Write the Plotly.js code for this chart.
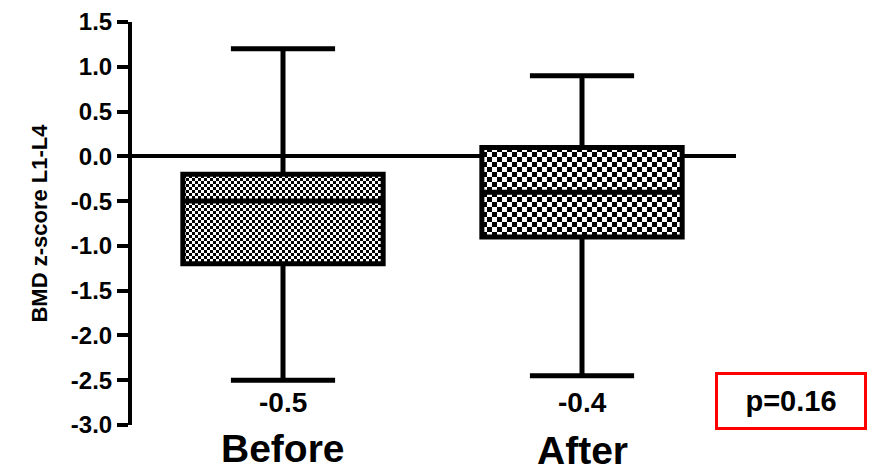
<!DOCTYPE html>
<html>
<head>
<meta charset="utf-8">
<script src="https://cdn.plot.ly/plotly-3.0.1.min.js"></script>
<style>
  html, body { margin: 0; padding: 0; background: #fff; }
  #chart { width: 871px; height: 474px; }
</style>
</head>
<body>
<div id="chart"></div>
<script>
// BMD z-score (L1-L4) before and after treatment: box-and-whisker summary
const groups = ['Before', 'After'];
const lowerWhisker = [-2.5, -2.45];
const q1 = [-1.2, -0.9];
const median = [-0.5, -0.4];
const q3 = [-0.2, 0.1];
const upperWhisker = [1.2, 0.9];
const yTicks = [1.5, 1.0, 0.5, 0.0, -0.5, -1.0, -1.5, -2.0, -2.5, -3.0];
const pValue = 0.16;

const FONT = 'Arial, "Liberation Sans", sans-serif';
// checkerboard cell (px) used to fill each box
const checkerCell = [3, 5];
// small vertical offsets (px) for the group captions
const captionShift = [1, -1];

// patterned bar spanning q1..q3 gives the box its fill
const boxFill = {
  type: 'bar',
  x: groups,
  base: q1,
  y: q3.map((v, i) => v - q1[i]),
  width: 0.67,
  marker: {
    color: 'white',
    line: { width: 0 },
    pattern: {
      shape: '.',
      size: checkerCell.map(c => 2 * c),
      solidity: 0.5,
      fgcolor: 'black',
      bgcolor: 'white',
      fillmode: 'replace'
    }
  },
  hoverinfo: 'skip',
  showlegend: false
};

// outline, median and whiskers
const boxes = {
  type: 'box',
  x: groups,
  q1: q1,
  median: median,
  q3: q3,
  lowerfence: lowerWhisker,
  upperfence: upperWhisker,
  width: 0.67,
  whiskerwidth: 0.52,
  fillcolor: 'rgba(0,0,0,0)',
  line: { color: 'black', width: 5 },
  boxpoints: false,
  hoverinfo: 'skip',
  showlegend: false
};

const annotations = [];
groups.forEach((g, i) => {
  annotations.push({
    x: g, xref: 'x', y: -0.062, yref: 'paper',
    text: g, showarrow: false, yanchor: 'middle', yshift: captionShift[i],
    font: { family: FONT, size: 39, color: 'black', weight: 'bold' }
  });
  annotations.push({
    x: g, xref: 'x', y: 0.055, yref: 'paper',
    text: median[i].toFixed(1), showarrow: false, yanchor: 'middle',
    font: { family: FONT, size: 28, color: 'black', weight: 'bold' }
  });
});
annotations.push({
  x: 1.091, xref: 'paper', y: 0.06, yref: 'paper',
  text: 'p=' + pValue.toFixed(2), showarrow: false,
  xanchor: 'center', yanchor: 'middle',
  width: 146, height: 52, borderpad: 0,
  bordercolor: '#ff0000', borderwidth: 3, bgcolor: 'white',
  font: { family: FONT, size: 29, color: 'black', weight: 'bold' }
});

const layout = {
  width: 871,
  height: 474,
  margin: { l: 132, r: 135, t: 22, b: 49 },
  paper_bgcolor: 'white',
  plot_bgcolor: 'white',
  showlegend: false,
  bargap: 0,
  xaxis: {
    type: 'category',
    range: [-0.505, 1.515],
    showline: false, showticklabels: false, ticks: '',
    showgrid: false, zeroline: false, fixedrange: true
  },
  yaxis: {
    range: [-3, 1.5],
    tickvals: yTicks,
    ticktext: yTicks.map(v => v.toFixed(1)),
    showline: true, linecolor: 'black', linewidth: 4,
    ticks: 'outside', ticklen: 11, tickwidth: 4, tickcolor: 'black',
    showgrid: false,
    zeroline: true, zerolinecolor: 'black', zerolinewidth: 4,
    tickfont: { family: FONT, size: 24, color: 'black', weight: 'bold' },
    title: {
      text: 'BMD z-score L1-L4',
      font: { family: FONT, size: 22, color: 'black', weight: 'bold' },
      standoff: 18
    },
    fixedrange: true
  },
  annotations: annotations
};

// swap the dot tiles for a true checkerboard
function checkerize(gd) {
  const NS = 'http://www.w3.org/2000/svg';
  gd.querySelectorAll('pattern').forEach(p => {
    const tile = parseFloat(p.getAttribute('width'));
    if (!tile) return;
    const c = tile / 2;
    while (p.firstChild) p.removeChild(p.firstChild);
    const mk = (x, y, w, h, fill) => {
      const r = document.createElementNS(NS, 'rect');
      r.setAttribute('x', x); r.setAttribute('y', y);
      r.setAttribute('width', w); r.setAttribute('height', h);
      r.setAttribute('fill', fill);
      r.setAttribute('shape-rendering', 'crispEdges');
      p.appendChild(r);
    };
    mk(0, 0, tile, tile, 'white');
    mk(0, 0, c, c, 'black');
    mk(c, c, c, c, 'black');
  });
}

const gd = document.getElementById('chart');
Plotly.newPlot(gd, [boxFill, boxes], layout, { staticPlot: true, displayModeBar: false })
  .then(() => checkerize(gd));
</script>
</body>
</html>
